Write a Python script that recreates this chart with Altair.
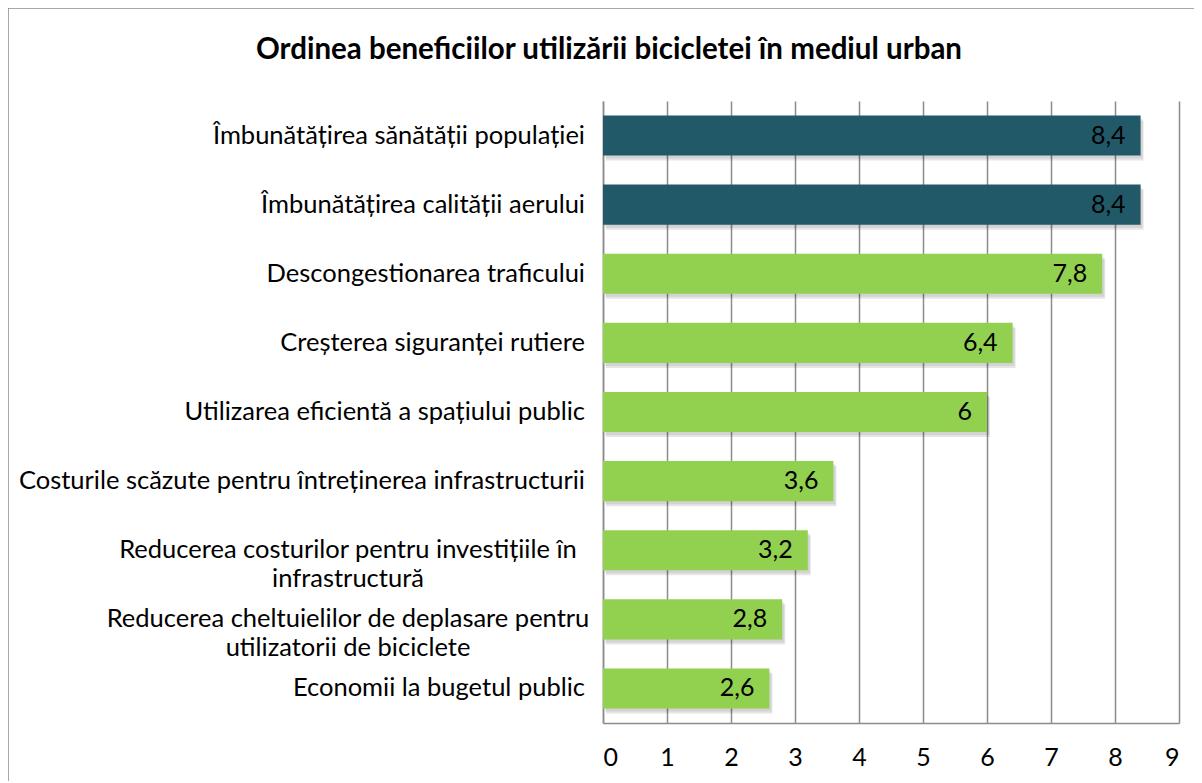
import altair as alt
import pandas as pd

title_text = "Ordinea beneficiilor utilizării bicicletei în mediul urban"
categories = [
    "Îmbunătățirea sănătății populației",
    "Îmbunătățirea calității aerului",
    "Descongestionarea traficului",
    "Creșterea siguranței rutiere",
    "Utilizarea eficientă a spațiului public",
    "Costurile scăzute pentru întreținerea infrastructurii",
    "Reducerea costurilor pentru investițiile în\ninfrastructură",
    "Reducerea cheltuielilor de deplasare pentru\nutilizatorii de biciclete",
    "Economii la bugetul public",
]
values = [8.4, 8.4, 7.8, 6.4, 6.0, 3.6, 3.2, 2.8, 2.6]
groups = ["top", "top", "rest", "rest", "rest", "rest", "rest", "rest", "rest"]
x_ticks = [0, 1, 2, 3, 4, 5, 6, 7, 8, 9]

def fmt(v):
    return ("%g" % v).replace(".", ",")

df = pd.DataFrame({
    "cat": categories,
    "val": values,
    "grp": groups,
    "lbl": [fmt(v) for v in values],
    "wrapped": ["\n" in c for c in categories],
})

FONT = "Lato"
FS = 25.5
y_enc = alt.Y("cat:N", sort=categories,
              scale=alt.Scale(paddingInner=0.42, paddingOuter=0.21),
              axis=alt.Axis(labels=False, ticks=False, title=None, domain=True,
                            domainColor="#8c8c8c", domainWidth=1.5, grid=False))
x_enc = alt.X("val:Q", scale=alt.Scale(domain=[0, 9], nice=False),
              axis=alt.Axis(values=x_ticks, title=None, grid=True,
                            gridColor="#8c8c8c", gridWidth=1.5,
                            domainColor="#8c8c8c", domainWidth=1.5,
                            ticks=False, labelPadding=22, labelFontSize=25,
                            labelFont=FONT, labelColor="#000000", format="d"))

base = alt.Chart(df)

frame = base.transform_filter("datum.val == 2.6").mark_rect(
    fill="transparent", stroke="#8c8c8c", strokeWidth=1.5).encode(
    x=alt.value(-595), x2=alt.value(700), y=alt.value(-93), y2=alt.value(800))

title = base.transform_filter("datum.val == 2.6").mark_text(
    align="center", baseline="middle", fontSize=29.5, font=FONT,
    fontWeight="bold", color="#000000").encode(
    x=alt.value(6), y=alt.value(-51), text=alt.value(title_text))

shadow1 = base.mark_bar(color="#000000", opacity=0.10, xOffset=3, yOffset=5).encode(
    x=x_enc, y=y_enc)
shadow2 = base.mark_bar(color="#000000", opacity=0.08, xOffset=2, yOffset=3).encode(
    x=x_enc, y=y_enc)

bars = base.mark_bar().encode(
    x=x_enc, y=y_enc,
    color=alt.Color("grp:N", scale=alt.Scale(domain=["top", "rest"],
                                             range=["#215968", "#92d050"]),
                    legend=None),
)

vlabels = base.mark_text(align="right", baseline="middle", dx=-15, fontSize=25,
                         font=FONT, color="#000000").encode(
    x=x_enc, y=y_enc, text="lbl:N")

cat_single = base.transform_filter("!datum.wrapped").mark_text(
    align="right", baseline="middle", fontSize=FS, font=FONT, color="#000000"
).encode(x=alt.value(-18), y=y_enc, text="cat:N")

cat_wrapped = base.transform_filter("datum.wrapped").mark_text(
    align="center", baseline="middle", fontSize=FS, font=FONT, color="#000000",
    lineBreak="\n", lineHeight=29
).encode(x=alt.value(-255), y=y_enc, text="cat:N")

chart = alt.layer(frame, title, shadow2, shadow1, bars, vlabels, cat_single, cat_wrapped).properties(
    width=576, height=622,
    autosize=alt.AutoSizeParams(type="none"),
    padding={"left": 595, "top": 93, "right": 15, "bottom": 58},
).configure_view(stroke=None)

chart.save("out.html", embed_options={"renderer": "svg", "actions": False})
